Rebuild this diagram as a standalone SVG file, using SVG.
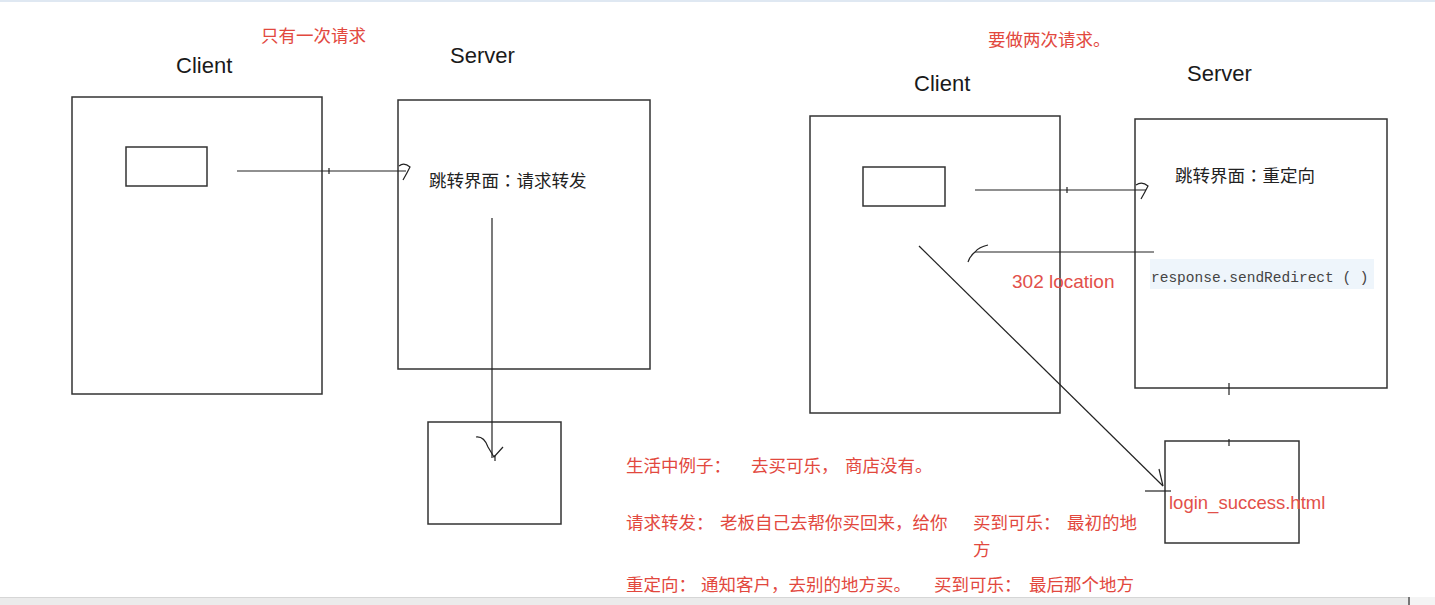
<svg xmlns="http://www.w3.org/2000/svg" width="1435" height="605" viewBox="0 0 1435 605">
<style>
.box{fill:none;stroke:#333;stroke-width:1.5}
.ln{fill:none;stroke:#222;stroke-width:1.2}
.lbl{font-family:"Liberation Sans",Arial,sans-serif;font-size:22px;fill:#1a1a1a}
.cn{font-family:"Noto Sans CJK JP","Noto Sans CJK SC",sans-serif;font-size:17.5px;fill:#222}
.red{font-family:"Noto Sans CJK SC",sans-serif;font-size:17.5px;fill:#e2483e}
.redl{font-family:"Liberation Sans","Noto Sans CJK SC",sans-serif;fill:#e2504a}
.mono{font-family:"Liberation Mono",monospace;font-size:14.5px;fill:#444}
</style>
<rect x="0" y="0" width="1435" height="605" fill="#ffffff"/>
<rect x="0" y="0" width="1435" height="2" fill="#dfe8f2"/>
<rect x="0" y="597" width="1435" height="8" fill="#ebebeb"/>
<line x1="0" y1="597.5" x2="1435" y2="597.5" stroke="#d6d6d6" stroke-width="1"/>
<rect x="1408" y="597" width="2" height="8" fill="#777"/>
<rect x="1410" y="597" width="25" height="8" fill="#f4f4f4"/>

<text class="red" x="261" y="41.5">只有一次请求</text>
<text class="red" x="988" y="45.5">要做两次请求。</text>

<g id="client-left">
<text class="lbl" x="176" y="73">Client</text>
<rect class="box" x="72" y="97" width="250" height="297"/>
<rect class="box" x="126" y="147" width="81" height="39"/>
</g>
<g id="server-left">
<text class="lbl" x="450" y="63">Server</text>
<rect class="box" x="398" y="100" width="252" height="269"/>
<text class="cn" x="429" y="186.5">跳转界面：请求转发</text>
</g>
<g id="page-left">
<rect class="box" x="428" y="422" width="133" height="102"/>
</g>

<g id="client-right">
<text class="lbl" x="914" y="91">Client</text>
<rect class="box" x="810" y="116" width="250" height="297"/>
<rect class="box" x="863" y="167" width="82" height="39"/>
</g>
<g id="server-right">
<text class="lbl" x="1187" y="81">Server</text>
<rect class="box" x="1135" y="119" width="252" height="269"/>
<text class="cn" x="1175" y="182">跳转界面：重定向</text>
<rect x="1150" y="259" width="224" height="30" fill="#eef5fb"/>
<text class="mono" x="1151" y="282">response.sendRedirect ( )</text>
</g>
<g id="login-success">
<rect class="box" x="1165" y="441" width="134" height="102"/>
<text class="redl" x="1169" y="509" font-size="18.5">login_success.html</text>
</g>

<g id="connectors">
<line class="ln" x1="237" y1="171" x2="406" y2="171"/>
<path class="ln" d="M399,166 Q404,162 410,167 Q407,173 403,180"/>
<line class="ln" x1="329" y1="168" x2="329" y2="174"/>

<line class="ln" x1="492" y1="218" x2="492" y2="458"/>
<path class="ln" d="M476,437 Q484,436 488,447 L494,457 L503,447"/>
<line class="ln" x1="495" y1="455" x2="495" y2="461"/>

<line class="ln" x1="975" y1="190" x2="1146" y2="190"/>
<path class="ln" d="M1136,185 Q1142,181 1148,186 Q1145,192 1141,199"/>
<line class="ln" x1="1067" y1="187" x2="1067" y2="193"/>

<line class="ln" x1="1154" y1="252" x2="975" y2="252"/>
<path class="ln" d="M988,245 Q979,247 975,252 Q970,256 968,262"/>
<text class="redl" x="1012" y="288" font-size="19">302 location</text>

<line class="ln" x1="919" y1="246" x2="1163" y2="486" stroke-width="1"/>
<line class="ln" x1="1159" y1="469" x2="1163" y2="486"/>
<line class="ln" x1="1145" y1="491" x2="1171" y2="491"/>
<line class="ln" x1="1229" y1="383" x2="1229" y2="395"/>
<line class="ln" x1="1229" y1="439" x2="1229" y2="446"/>
</g>

<g id="notes">
<text class="red" x="626" y="472">生活中例子：</text>
<text class="red" x="751" y="472">去买可乐，</text>
<text class="red" x="845" y="472">商店没有。</text>
<text class="red" x="626" y="529">请求转发：</text>
<text class="red" x="720" y="529">老板自己去帮你买回来，给你</text>
<text class="red" x="973" y="529">买到可乐：</text>
<text class="red" x="1067" y="529">最初的地</text>
<text class="red" x="973" y="556">方</text>
<text class="red" x="626" y="591">重定向：</text>
<text class="red" x="701" y="591">通知客户，去别的地方买。</text>
<text class="red" x="934" y="591">买到可乐：</text>
<text class="red" x="1029" y="591">最后那个地方</text>
</g>
</svg>
